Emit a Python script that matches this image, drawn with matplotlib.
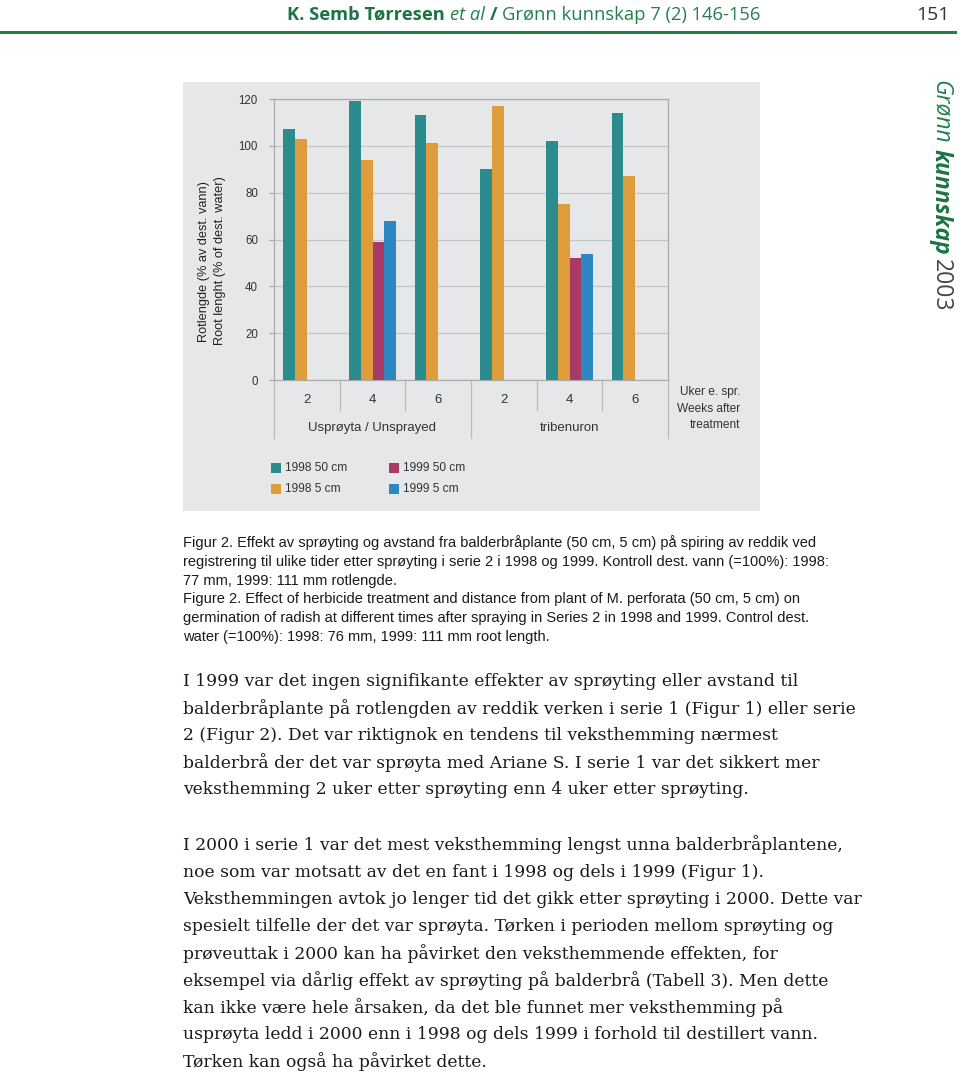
import numpy as np
import matplotlib
matplotlib.use("Agg")
import matplotlib.pyplot as plt
from matplotlib.patches import Rectangle
from matplotlib.lines import Line2D

W, H = 960, 1077

# ---------------------------------------------------------------- data
weeks = ["2", "4", "6", "2", "4", "6"]
groups = ["Usprøyta / Unsprayed", "tribenuron"]
series_names = ["1998 50 cm", "1998 5 cm", "1999 50 cm", "1999 5 cm"]
s98_50 = [107, 119, 113, 90, 102, 114]
s98_5 = [103, 94, 101, 117, 75, 87]
s99_50 = [np.nan, 59, np.nan, np.nan, 52, np.nan]
s99_5 = [np.nan, 68, np.nan, np.nan, 54, np.nan]
yticks = [0, 20, 40, 60, 80, 100, 120]

colors = ["#2b8c8e", "#df9c3b", "#a93a68", "#2d88c2"]
GREEN = "#23804c"
PANEL = "#e6e7e9"
SANS = "Liberation Sans"
SERIF = "DejaVu Serif"

caption = [
    "Figur 2. Effekt av sprøyting og avstand fra balderbråplante (50 cm, 5 cm) på spiring av reddik ved",
    "registrering til ulike tider etter sprøyting i serie 2 i 1998 og 1999. Kontroll dest. vann (=100%): 1998:",
    "77 mm, 1999: 111 mm rotlengde.",
    "Figure 2. Effect of herbicide treatment and distance from plant of M. perforata (50 cm, 5 cm) on",
    "germination of radish at different times after spraying in Series 2 in 1998 and 1999. Control dest.",
    "water (=100%): 1998: 76 mm, 1999: 111 mm root length.",
]
para1 = [
    "I 1999 var det ingen signifikante effekter av sprøyting eller avstand til",
    "balderbråplante på rotlengden av reddik verken i serie 1 (Figur 1) eller serie",
    "2 (Figur 2). Det var riktignok en tendens til veksthemming nærmest",
    "balderbrå der det var sprøyta med Ariane S. I serie 1 var det sikkert mer",
    "veksthemming 2 uker etter sprøyting enn 4 uker etter sprøyting.",
]
para2 = [
    "I 2000 i serie 1 var det mest veksthemming lengst unna balderbråplantene,",
    "noe som var motsatt av det en fant i 1998 og dels i 1999 (Figur 1).",
    "Veksthemmingen avtok jo lenger tid det gikk etter sprøyting i 2000. Dette var",
    "spesielt tilfelle der det var sprøyta. Tørken i perioden mellom sprøyting og",
    "prøveuttak i 2000 kan ha påvirket den veksthemmende effekten, for",
    "eksempel via dårlig effekt av sprøyting på balderbrå (Tabell 3). Men dette",
    "kan ikke være hele årsaken, da det ble funnet mer veksthemming på",
    "usprøyta ledd i 2000 enn i 1998 og dels 1999 i forhold til destillert vann.",
    "Tørken kan også ha påvirket dette.",
]


def fx(px):
    return px / W


def fy(py):
    return 1 - py / H


fig = plt.figure(figsize=(W / 100, H / 100), dpi=100)
fig.patch.set_facecolor("white")
rend = fig.canvas.get_renderer()


def chain(pieces, x, y, rot=0, gap=4.5, **kw):
    # lay out differently styled pieces one after another
    for s, style in pieces:
        t = fig.text(fx(x), fy(y), s, rotation=rot, rotation_mode="anchor", **kw, **style)
        bb = t.get_window_extent(rend)
        if rot == 0:
            x += bb.width + gap
        else:
            y += bb.height + gap


# ---------------------------------------------------------------- page header
chain([("K. Semb Tørresen", dict(weight="bold", color="#1d7344")),
       ("et al", dict(style="italic", color=GREEN)),
       ("/", dict(weight="bold", color="#1d7344")),
       ("Grønn kunnskap 7 (2) 146-156", dict(color=GREEN))],
      287, 19.5, gap=5, family="Open Sans", fontsize=13.2, va="baseline", ha="left")
fig.text(fx(950), fy(20), "151", family="Open Sans", fontsize=14, color="#333333",
         ha="right", va="baseline")
fig.add_artist(Line2D([0, fx(955)], [fy(32), fy(32)], color="#2a7a4c", lw=2.2))

# vertical journal tag on the right edge
chain([("Grønn", dict(style="italic", color=GREEN)),
       ("kunnskap", dict(style="italic", weight="bold", color="#1d7344")),
       ("2003", dict(color="#444444"))],
      935, 80, rot=-90, gap=5, family="Open Sans", fontsize=16.5, ha="left", va="baseline")

# ---------------------------------------------------------------- chart panel
fig.add_artist(Rectangle((fx(183), fy(511)), fx(760 - 183), (511 - 82) / H,
                         transform=fig.transFigure, facecolor=PANEL, edgecolor="none", zorder=0))

ax = fig.add_axes([fx(274), fy(380), fx(668 - 274), (380 - 99) / H])
ax.set_facecolor(PANEL)
x = np.arange(len(weeks))
w = 0.178
for i, (vals, c) in enumerate(zip([s98_50, s98_5, s99_50, s99_5], colors)):
    ax.bar(x + (i - 1.5) * w, vals, width=w, color=c, zorder=3)

ax.set_xlim(-0.5, len(weeks) - 0.5)
ax.set_ylim(0, 120)
ax.set_yticks(yticks)
ax.set_yticklabels([str(v) for v in yticks], family=SANS, fontsize=8.3, color="#333333")
ax.tick_params(axis="y", length=3.6, width=0.9, color="#a9aaac", pad=8)
ax.grid(axis="y", color="#c4c5c7", lw=0.9, zorder=1)
for s in ["top", "left", "right", "bottom"]:
    ax.spines[s].set_color("#a9aaac")
    ax.spines[s].set_linewidth(0.9)

ax.set_xticks(x)
ax.set_xticklabels(weeks, family=SANS, fontsize=9.5, color="#333333")
ax.tick_params(axis="x", length=0, pad=10)

# two-level category axis: dividers and group labels
tr = ax.get_xaxis_transform()
for b in np.arange(-0.5, len(weeks), 1.0):
    long = (b == -0.5) or (b == len(weeks) - 0.5) or (b == len(weeks) / 2 - 0.5)
    ax.plot([b, b], [0, -58 / 281 if long else -30 / 281], color="#b9babc", lw=0.9,
            transform=tr, clip_on=False)
for gi, g in enumerate(groups):
    ax.text(gi * 3 + 1, -47.5 / 281, g, transform=tr, ha="center", va="center",
            family=SANS, fontsize=9.5, color="#333333")

fig.text(fx(740), fy(409), "Uker e. spr.\nWeeks after\ntreatment", ha="right", va="center",
         multialignment="right", family=SANS, fontsize=8.6, color="#333333", linespacing=1.5)

fig.text(fx(204), fy(261), "Rotlengde (% av dest. vann)", rotation=90, ha="center", va="center",
         family=SANS, fontsize=9.2, color="#222222")
fig.text(fx(220), fy(261), "Root lenght (% of dest. water)", rotation=90, ha="center", va="center",
         family=SANS, fontsize=9.2, color="#222222")

# legend
leg_pos = [(271, 468), (271, 489), (389, 468), (389, 489)]
for (lx, ly), c, name in zip(leg_pos, colors, series_names):
    fig.add_artist(Rectangle((fx(lx), fy(ly + 5)), fx(10), 10 / H, transform=fig.transFigure,
                             facecolor=c, edgecolor="none"))
    fig.text(fx(lx + 14), fy(ly), name, ha="left", va="center", family=SANS, fontsize=8.6,
             color="#333333")

# ---------------------------------------------------------------- caption and body text
for i, line in enumerate(caption):
    fig.text(fx(183), fy(543 + i * 18.8), line, ha="left", va="center", family=SANS,
             fontsize=10.5, color="#1a1a1a")
for i, line in enumerate(para1):
    fig.text(fx(183), fy(682 + i * 27), line, ha="left", va="center", family=SERIF,
             fontsize=12.35, color="#1a1a1a")
for i, line in enumerate(para2):
    fig.text(fx(183), fy(845 + i * 27.1), line, ha="left", va="center", family=SERIF,
             fontsize=12.35, color="#1a1a1a")

fig.savefig("out.png", dpi=100, facecolor="white")
